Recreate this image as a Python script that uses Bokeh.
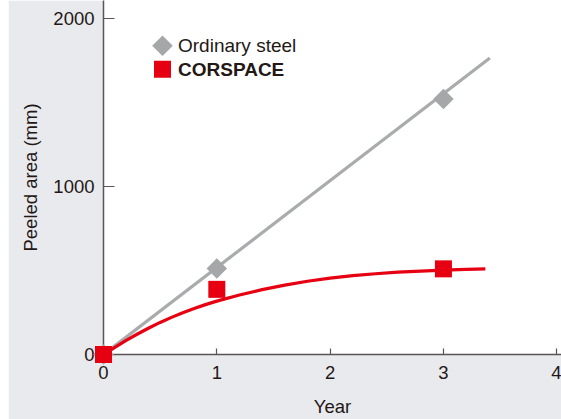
from bokeh.plotting import figure
from bokeh.models import (Range1d, FixedTicker, ColumnDataSource, Label,
                          PolyAnnotation, BoxAnnotation)
from bokeh.embed import file_html
from bokeh.resources import INLINE
import math

# ---- data ----
years_points = [0, 1, 3]
steel_points = [0, 512, 1522]
corspace_points = [0, 388, 510]

steel_trend_x = [0, 3.41]
steel_trend_y = [0, 1766]

corspace_trend_x = [0, 0.1, 0.2, 0.3, 0.4, 0.5, 0.6, 0.7, 0.8, 0.9, 1.0, 1.2, 1.4,
                    1.6, 1.8, 2.0, 2.2, 2.4, 2.6, 2.8, 3.0, 3.2, 3.37]
corspace_trend_y = [0, 43, 84, 122, 158, 191, 221, 249, 274, 297, 318, 354, 386,
                    413, 436, 455, 470, 481, 490, 497, 503, 507, 510]

x_ticks = [0, 1, 2, 3, 4]
y_ticks = [0, 1000, 2000]

series_names = ["Ordinary steel", "CORSPACE"]
x_title = "Year"
y_title = "Peeled area (mm)"

# ---- style ----
BG = "#e9eaee"
RED = "#e60012"
GRAY_M = "#a5a7a8"
GRAY_L = "#a9abad"
AXIS = "#5a5555"
TEXT = "#231815"
FONT = "Liberation Sans"

p = figure(width=553, height=419, output_backend="svg", toolbar_location=None,
           x_range=Range1d(0, 4.042), y_range=Range1d(0, 2108))
p.margin = (0, 0, 0, 8)
p.min_border_left = 95
p.min_border_right = 0
p.min_border_top = 0
p.min_border_bottom = 63
p.border_fill_color = BG
p.background_fill_color = "white"
p.outline_line_color = None
p.grid.visible = False

for ax in (p.xaxis[0], p.yaxis[0]):
    ax.axis_line_color = AXIS
    ax.axis_line_width = 1.5
    ax.major_tick_line_color = AXIS
    ax.major_tick_line_width = 1.2
    ax.major_tick_out = 0
    ax.minor_tick_line_color = None
    ax.major_label_text_font = FONT
    ax.major_label_text_font_size = "18.5px"
    ax.major_label_text_color = TEXT
    ax.axis_label_text_font = FONT
    ax.axis_label_text_font_size = "18.5px"
    ax.axis_label_text_font_style = "normal"
    ax.axis_label_text_color = TEXT

p.xaxis.ticker = FixedTicker(ticks=x_ticks)
p.yaxis.ticker = FixedTicker(ticks=y_ticks)
p.xaxis.major_tick_in = 6
p.yaxis.major_tick_in = 11
p.xaxis.major_label_standoff = 11
p.yaxis.major_label_standoff = 9
p.xaxis.axis_label = x_title
p.yaxis.axis_label = y_title
p.xaxis.axis_label_standoff = 14
p.yaxis.axis_label_standoff = 9

p.line(steel_trend_x, steel_trend_y, line_color=GRAY_L, line_width=3.2)
p.line(corspace_trend_x, corspace_trend_y, line_color=RED, line_width=3.2,
       line_join="round")

src = ColumnDataSource(dict(x=years_points, steel=steel_points, cors=corspace_points))
p.scatter("x", "steel", source=src, marker="square", size=14.5,
          angle=math.pi / 4, fill_color=GRAY_M, line_color=None, level="overlay")
p.scatter("x", "cors", source=src, marker="square", size=17,
          fill_color=RED, line_color=None, level="overlay")

# ---- legend (screen units, relative to the plot frame) ----
lx, ly1, ly2 = 59, 308.7, 285.3
p.add_layout(PolyAnnotation(xs=[lx, lx + 10.3, lx, lx - 10.3],
                            ys=[ly1 + 10.3, ly1, ly1 - 10.3, ly1],
                            xs_units="screen", ys_units="screen",
                            fill_color=GRAY_M, fill_alpha=1, line_color=None))
p.add_layout(BoxAnnotation(left=lx - 8.5, right=lx + 8.5, bottom=ly2 - 8.5, top=ly2 + 8.5,
                           left_units="screen", right_units="screen",
                           bottom_units="screen", top_units="screen",
                           fill_color=RED, fill_alpha=1, line_color=None))
p.add_layout(Label(x=lx + 15.5, y=ly1, x_units="screen", y_units="screen",
                   text=series_names[0], text_font=FONT, text_font_size="19px",
                   text_color=TEXT, text_baseline="middle"))
p.add_layout(Label(x=lx + 15.5, y=ly2, x_units="screen", y_units="screen",
                   text=series_names[1], text_font=FONT, text_font_size="19px",
                   text_font_style="bold", text_color=TEXT, text_baseline="middle"))

open("out.html", "w").write(file_html(p, INLINE))
